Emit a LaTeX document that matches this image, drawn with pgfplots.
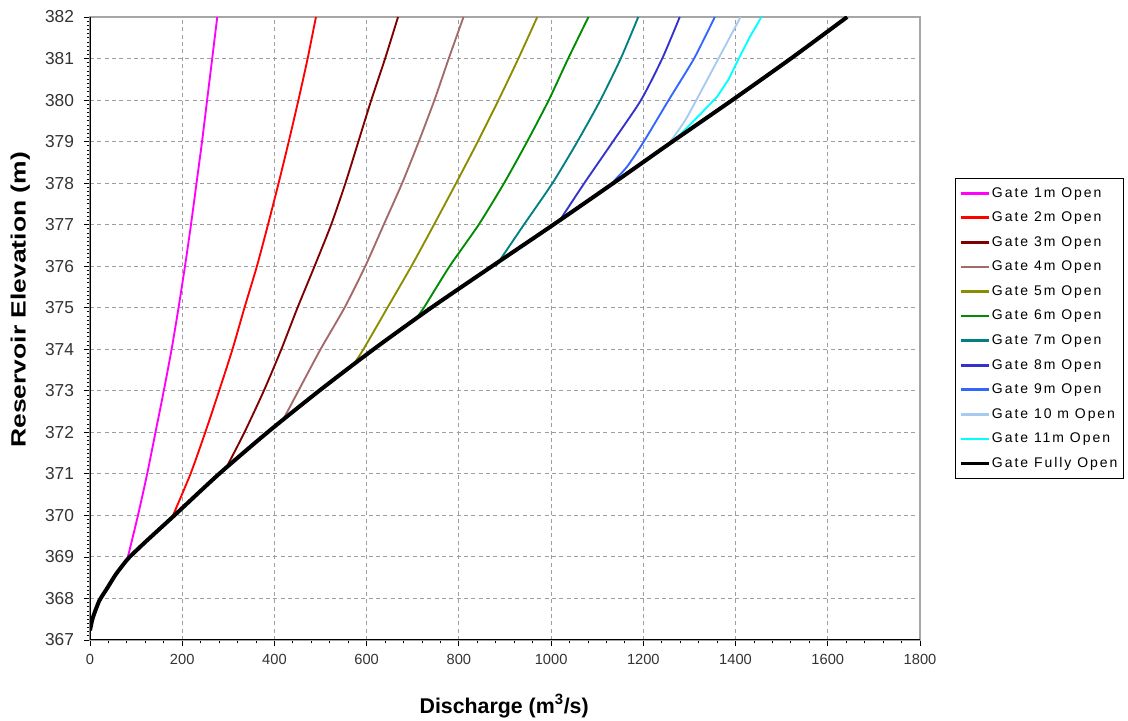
\documentclass[border=0pt]{standalone}
\usepackage{fontspec}
\setmainfont{Liberation Sans}
\newfontfamily\legfont[LetterSpace=14]{Liberation Sans}
\usepackage{pgfplots}
\pgfplotsset{compat=1.18}
\definecolor{g1}{RGB}{255,0,255}
\definecolor{g2}{RGB}{255,0,0}
\definecolor{g3}{RGB}{128,0,0}
\definecolor{g4}{RGB}{164,106,106}
\definecolor{g5}{RGB}{140,140,0}
\definecolor{g6}{RGB}{0,140,0}
\definecolor{g7}{RGB}{0,128,128}
\definecolor{g8}{RGB}{51,51,204}
\definecolor{g9}{RGB}{51,102,255}
\definecolor{g10}{RGB}{166,202,240}
\definecolor{g11}{RGB}{0,255,255}
\begin{document}
\begin{tikzpicture}
\path[use as bounding box] (-67.5pt,-60.75pt) rectangle (778.5pt,480pt);
\begin{axis}[
  at={(0pt,0pt)}, anchor=south west,
  width=622.5pt, height=467.25pt, scale only axis,
  xmin=0, xmax=1800, ymin=367, ymax=382,
  xtick={0,200,...,1800}, ytick={367,368,...,382},
  minor x tick num=4, minor y tick num=9,
  tick align=outside, xtick pos=left, ytick pos=left,
  major tick length=4.5pt, minor tick length=2.5pt,
  tick style={black, line width=0.6pt},
  grid=major,
  grid style={gray!75, line width=0.7pt, dash pattern=on 3pt off 2.5pt},
  axis line style={gray!70, line width=0.8pt},
  /pgf/number format/assume math mode=true,
  /pgf/number format/1000 sep={},
  yticklabel style={font=\fontsize{13}{15}\selectfont, text=black!80, xshift=-4pt},
  xticklabel style={font=\fontsize{11}{13}\selectfont, text=black!80, yshift=-3pt},
  xlabel={\bfseries Discharge (m\textsuperscript{3}/s)},
  ylabel={\scalebox{1.28}[1]{\bfseries Reservoir Elevation (m)}},
  xlabel style={font=\fontsize{16}{18}\selectfont, at={(rel axis cs:0.499,-0.106)}, anchor=center},
  ylabel style={font=\fontsize{15.5}{18}\selectfont, at={(rel axis cs:-0.084,0.546)}, anchor=center},
  legend cell align=left,
  legend image code/.code={\draw[#1, line width=2pt] (0pt,0pt) -- (21pt,0pt);},
  legend style={at={(rel axis cs:1.042,0.7416)}, anchor=north west,
    draw=black, line width=0.6pt, fill=white,
    font=\legfont\fontsize{10.5}{12}\selectfont,
    inner xsep=3pt, inner ysep=5.5pt, row sep=7.2pt,
    nodes={inner xsep=1.5pt, inner ysep=1.2pt}},
  every axis plot/.append style={line width=1.4pt, line join=round},
]
\addplot[g1, smooth, tension=0.4] coordinates {(76,368.88) (82,369) (104,370) (124,371) (142,372) (160,373) (177,374) (192,375) (206,376) (219,377) (231,378) (243,379) (254,380) (265,381) (276,382)};
\addlegendentry{Gate 1m Open}
\addplot[g2, smooth, tension=0.4] coordinates {(180,370.0) (218,371) (250,372) (280,373) (309,374) (335,375) (362,376) (386,377) (409,378) (431,379) (452,380) (472,381) (490,382)};
\addlegendentry{Gate 2m Open}
\addplot[g3, smooth, tension=0.4] coordinates {(298,371.2) (335,372) (377,373) (415,374) (450,375) (487,376) (523,377) (554,378) (582,379) (610,380) (640,381) (668,382)};
\addlegendentry{Gate 3m Open}
\addplot[g4, smooth, tension=0.4] coordinates {(420,372.33) (452,373) (500,374) (552,375) (597,376) (637,377) (677,378) (713,379) (747,380) (778,381) (810,382)};
\addlegendentry{Gate 4m Open}
\addplot[g5, smooth, tension=0.4] coordinates {(572,373.64) (593,374) (645,375) (697,376) (746,377) (794,378) (841,379) (886,380) (929,381) (970,382)};
\addlegendentry{Gate 5m Open}
\addplot[g6, smooth, tension=0.4] coordinates {(706,374.73) (724,375) (780,376) (843,377) (898,378) (948,379) (995,380) (1037,381) (1081,382)};
\addlegendentry{Gate 6m Open}
\addplot[g7, smooth, tension=0.4] coordinates {(880,376.0) (941,377) (1003,378) (1057,379) (1107,380) (1151,381) (1189,382)};
\addlegendentry{Gate 7m Open}
\addplot[g8, smooth, tension=0.4] coordinates {(1021,377.14) (1072,378) (1134,379) (1195,380) (1241,381) (1279,382)};
\addlegendentry{Gate 8m Open}
\addplot[g9, smooth, tension=0.4] coordinates {(1136,378.05) (1165,378.4) (1201,379) (1255,380) (1310,381) (1355,382)};
\addlegendentry{Gate 9m Open}
\addplot[g10, smooth, tension=0.4] coordinates {(1200,378.5) (1230,378.75) (1258,379) (1290,379.5) (1315,380) (1363,381) (1411,382)};
\addlegendentry{Gate 10 m Open}
\addplot[g11] coordinates {(1262,379.0) (1280,379.17) (1320,379.62) (1360,380.08) (1385,380.5) (1407,381) (1430,381.5) (1456,382)};
\addlegendentry{Gate 11m Open}
\addplot[black, line width=3pt, smooth, tension=0.4] coordinates {(0,367.23) (6,367.53) (20,367.94) (38,368.26) (56,368.58) (78,368.9) (86,369) (122,369.38) (183,370) (280,371) (385,372) (497,373) (615,374) (740,375) (872,376) (1005,377) (1135,378) (1263,379) (1393,380) (1520,381) (1642,382)};
\addlegendentry{Gate Fully Open}
\draw[black, line width=0.8pt] (rel axis cs:0,1) -- (rel axis cs:0,0) -- (rel axis cs:1,0);
\end{axis}
\end{tikzpicture}
\end{document}
